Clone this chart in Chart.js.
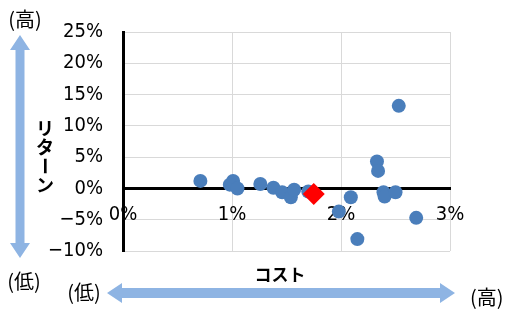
<!DOCTYPE html>
<html>
<head>
<meta charset="utf-8">
<script src="https://cdn.jsdelivr.net/npm/chart.js@4/dist/chart.umd.min.js"></script>
<style>
  html, body { margin: 0; padding: 0; background: #fff; }
  #wrap { width: 505px; height: 312px; }
</style>
</head>
<body>
<div id="wrap"><canvas id="c" width="505" height="312"></canvas></div>
<script>
// Cost (%) and return (%) of each fund.
const costX = [0.71, 1.01, 0.98, 1.05, 1.26, 1.38, 1.46, 1.54, 1.57, 1.70,
               2.09, 1.98, 2.15, 2.33, 2.34, 2.39, 2.40, 2.50, 2.53, 2.69];
const returnY = [1.2, 1.2, 0.6, 0.0, 0.7, 0.1, -0.6, -1.4, -0.2, -0.5,
                 -1.4, -3.7, -8.1, 4.3, 2.8, -0.6, -1.3, -0.6, 13.2, -4.7];
// The highlighted fund (red diamond).
const fundX = [1.75];
const fundY = [-0.9];

const xTicks = [0, 1, 2, 3];
const yTicks = [-10, -5, 0, 5, 10, 15, 20, 25];

const TICK_FONT = '"Liberation Sans Narrow", "DejaVu Sans Condensed", sans-serif';
const JP_FONT = '"Noto Sans CJK JP", sans-serif';
const ARROW = "#8eb4e3";
const GRID = "#d9d9d9";

const pts = (xs, ys) => xs.map((x, i) => ({ x, y: ys[i] }));
// Excel shows a real minus sign, not a hyphen.
const pct = (v) => String(v).replace("-", "\u2212") + "%";

// Blue double arrows and the Japanese captions around the plot.
const decorations = {
    id: "decorations",
    afterDraw(chart) {
        const ctx = chart.ctx;
        ctx.save();
        ctx.fillStyle = ARROW;

        // vertical arrow (return)
        ctx.beginPath();
        ctx.moveTo(20, 35);
        ctx.lineTo(30, 50);
        ctx.lineTo(24.5, 50);
        ctx.lineTo(24.5, 243);
        ctx.lineTo(30, 243);
        ctx.lineTo(20, 258);
        ctx.lineTo(10, 243);
        ctx.lineTo(15.5, 243);
        ctx.lineTo(15.5, 50);
        ctx.lineTo(10, 50);
        ctx.closePath();
        ctx.fill();

        // horizontal arrow (cost)
        ctx.beginPath();
        ctx.moveTo(107, 293);
        ctx.lineTo(122, 283);
        ctx.lineTo(122, 288);
        ctx.lineTo(440, 288);
        ctx.lineTo(440, 283);
        ctx.lineTo(455, 293);
        ctx.lineTo(440, 303);
        ctx.lineTo(440, 298);
        ctx.lineTo(122, 298);
        ctx.lineTo(122, 303);
        ctx.closePath();
        ctx.fill();

        ctx.fillStyle = "#000";
        ctx.textBaseline = "middle";
        ctx.font = "20px " + JP_FONT;
        ctx.textAlign = "center";
        ctx.fillText("(高)", 25, 19);
        ctx.fillText("(低)", 24, 281);
        ctx.fillText("(低)", 84, 292);
        ctx.textAlign = "left";
        ctx.fillText("(高)", 470, 297);

        // vertical axis title, one character at a time
        ctx.font = "bold 18px " + JP_FONT;
        ctx.textAlign = "center";
        const title = "リターン";
        [...title].forEach((ch, i) => {
            const cy = 128 + i * 19;
            if (ch === "ー") {
                ctx.save();
                ctx.translate(45, cy);
                ctx.rotate(Math.PI / 2);
                ctx.fillText(ch, 0, 0);
                ctx.restore();
            } else {
                ctx.fillText(ch, 45, cy);
            }
        });

        ctx.font = "bold 17px " + JP_FONT;
        ctx.fillText("コスト", 280, 275);
        ctx.restore();
    },
};

new Chart(document.getElementById("c"), {
    type: "scatter",
    data: {
        datasets: [
            {
                label: "fund",
                data: pts(fundX, fundY),
                pointStyle: "rectRot",
                pointRadius: 11,
                pointHoverRadius: 11,
                backgroundColor: "#ff0000",
                borderWidth: 0,
            },
            {
                label: "others",
                data: pts(costX, returnY),
                pointRadius: 7,
                pointHoverRadius: 7,
                backgroundColor: "#4a7ebb",
                borderWidth: 0,
            },
        ],
    },
    options: {
        responsive: false,
        animation: false,
        events: [],
        layout: { padding: { left: 0, top: 28, right: 55, bottom: 61 } },
        plugins: { legend: { display: false }, tooltip: { enabled: false } },
        scales: {
            x: {
                type: "linear",
                position: { y: 0 },
                min: 0,
                max: 3,
                afterBuildTicks: (s) => { s.ticks = xTicks.map((v) => ({ value: v })); },
                grid: { color: GRID, lineWidth: 1, drawTicks: false },
                border: { display: true, color: "#000", width: 3 },
                ticks: {
                    padding: 14,
                    color: "#000",
                    font: { family: TICK_FONT, size: 20 },
                    callback: pct,
                },
            },
            y: {
                type: "linear",
                min: -10,
                max: 25,
                afterBuildTicks: (s) => { s.ticks = yTicks.map((v) => ({ value: v })); },
                afterFit: (s) => { s.width = 123; },
                grid: {
                    color: (c) => (c.tick && c.tick.value === 0 ? "rgba(0,0,0,0)" : GRID),
                    lineWidth: 1,
                    drawTicks: false,
                },
                border: { display: true, color: "#000", width: 3 },
                ticks: {
                    padding: 20,
                    color: "#000",
                    font: { family: TICK_FONT, size: 20 },
                    callback: pct,
                },
            },
        },
    },
    plugins: [decorations],
});
</script>
</body>
</html>
